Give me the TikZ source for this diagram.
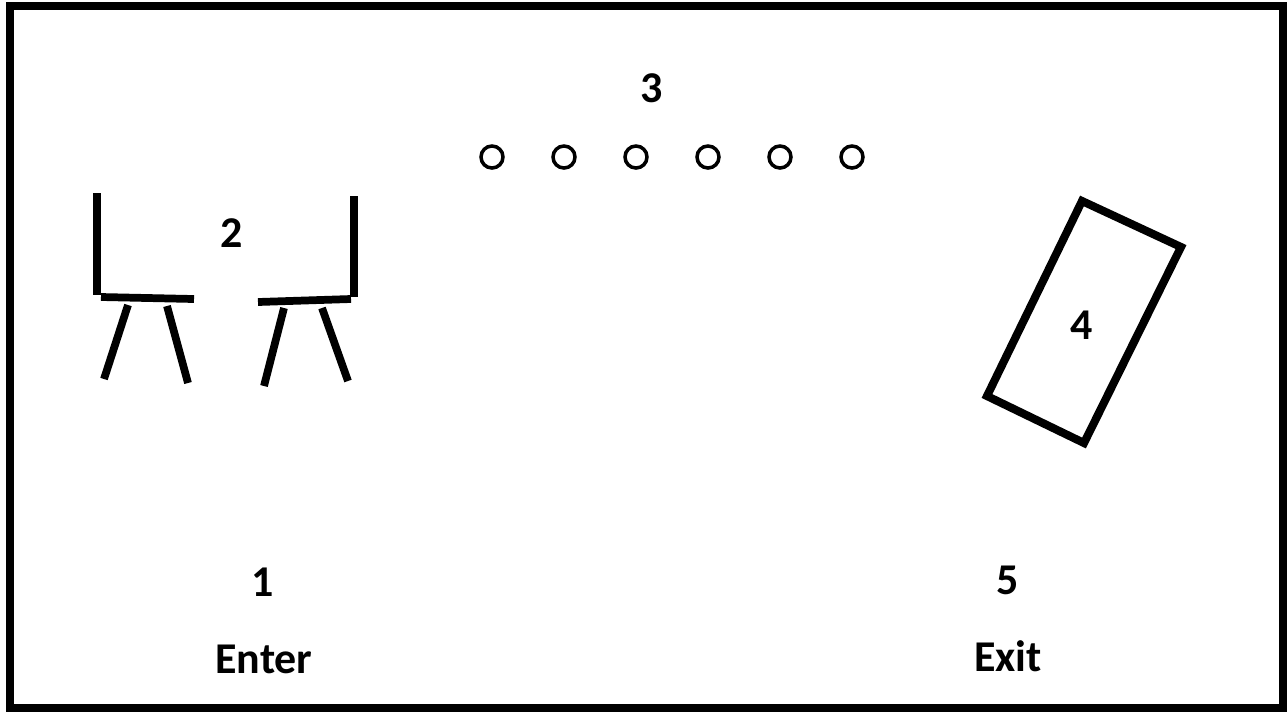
\documentclass[tikz,border=0pt]{standalone}
\usepackage{fontspec}
\setmainfont{Carlito}
\begin{document}
\begin{tikzpicture}[
x=0.01cm,y=-0.01cm,
thick line/.style={%
line width=2.2pt
},
lbl/.style={%
font=\fontsize{12.5}{15}\selectfont\bfseries
},
stool/.style={%
draw, line width=1pt
}
]
\useasboundingbox(0,0)rectangle(1287,711);
%% Frame
\draw[line width=2.3pt](10,6)rectangle(1283,708);
%% Chairs
\draw[thick line](97,193)--(97,295);
\draw[thick line](101,297)--(194,299);
\draw[thick line](128,305)--(104,379);
\draw[thick line](167,306)--(188,383);
\draw[thick line](354,196)--(354,297);
\draw[thick line](258,302)--(351,299);
\draw[thick line](284,308)--(264,386);
\draw[thick line](322,308)--(348,381);
\node[lbl]at(232,233)(n2){2};
%% Stools
\foreach \i in {0,...,5}
  \draw[stool](492+72*\i,157)circle(11);
\node[lbl]at(652,88)(n3){3};
%% Table
\draw[line width=2.3pt](1082,201)--(1181,247)--(1084,443)--(987,396)--cycle;
\node[lbl]at(1082,325)(n4){4};
%% Doors
\node[lbl]at(263,582)(n1){1};
\node[lbl]at(264,659)(enter){Enter};
\node[lbl]at(1008,580)(n5){5};
\node[lbl]at(1008,656)(exit){Exit};
\end{tikzpicture}
\end{document}
